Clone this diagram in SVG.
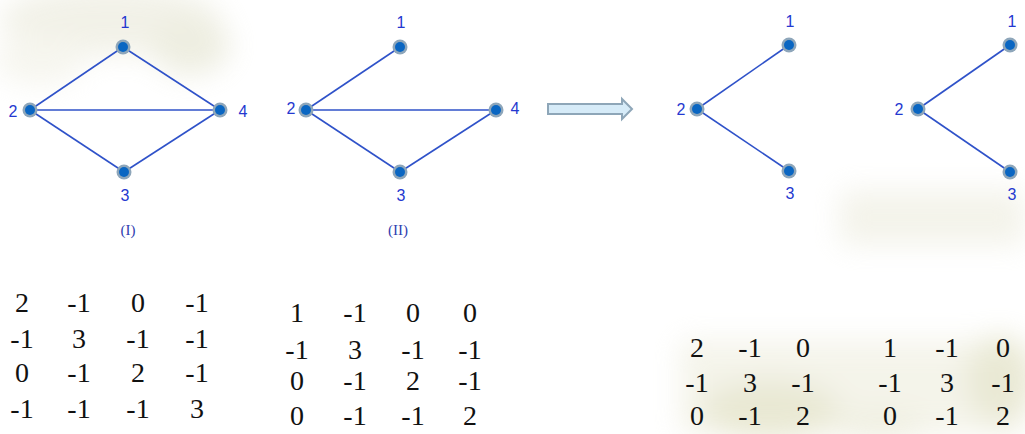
<svg xmlns="http://www.w3.org/2000/svg" width="1025" height="434" viewBox="0 0 1025 434">
<defs>
<filter id="blur" x="-30%" y="-30%" width="160%" height="160%"><feGaussianBlur stdDeviation="14"/></filter>
</defs>
<style>
.edge{stroke:#2f52c9;stroke-width:1.6;fill:none}
.halo{fill:#8ea6ba}
.core{fill:#0a66c2}
.lbl{font-family:"Liberation Sans",Arial,sans-serif;font-size:16px;fill:#2438d0;text-anchor:middle}
.cap{font-family:"Liberation Serif","Times New Roman",serif;font-size:15px;fill:#3040b0;text-anchor:middle}
.m{font-family:"Liberation Serif","DejaVu Serif",serif;font-size:28px;fill:#111;text-anchor:middle}
</style>
<rect width="1025" height="434" fill="#ffffff"/>
<g id="background" filter="url(#blur)" opacity="0.45">
<ellipse cx="110" cy="20" rx="110" ry="35" fill="#e2e1cc"/>
<ellipse cx="190" cy="45" rx="40" ry="30" fill="#d9d9bd"/>
<ellipse cx="40" cy="60" rx="45" ry="25" fill="#ecebdc"/>
<rect x="840" y="190" width="185" height="55" fill="#e6e5d2"/>
<rect x="680" y="340" width="345" height="94" fill="#e8e7d2"/>
<ellipse cx="770" cy="410" rx="70" ry="30" fill="#cfce9f"/>
<ellipse cx="1000" cy="380" rx="35" ry="45" fill="#d0cfa2"/>
<ellipse cx="880" cy="425" rx="50" ry="15" fill="#dcdbbb"/>
</g>
<g id="connectors">
<line class="edge" x1="30" y1="110" x2="123" y2="47"/>
<line class="edge" x1="123" y1="47" x2="220" y2="110"/>
<line class="edge" x1="30" y1="110" x2="220" y2="110"/>
<line class="edge" x1="30" y1="110" x2="124" y2="172"/>
<line class="edge" x1="124" y1="172" x2="220" y2="110"/>
<line class="edge" x1="306" y1="110" x2="400" y2="47"/>
<line class="edge" x1="306" y1="110" x2="496" y2="110"/>
<line class="edge" x1="306" y1="110" x2="400" y2="172"/>
<line class="edge" x1="400" y1="172" x2="496" y2="110"/>
<line class="edge" x1="697" y1="109" x2="789" y2="45"/>
<line class="edge" x1="697" y1="109" x2="789" y2="171"/>
<line class="edge" x1="918" y1="109" x2="1010" y2="45"/>
<line class="edge" x1="918" y1="109" x2="1010" y2="172"/>
</g>
<g id="arrow">
<path d="M548,104 L622,104 L622,99 L632,109 L622,119 L622,114 L548,114 Z" fill="#d6ebf8" stroke="#8ea6b8" stroke-width="2"/>
</g>
<g id="g1-n1"><circle class="halo" cx="123" cy="47" r="7.5"/><circle class="core" cx="123" cy="47" r="5"/><text class="lbl" x="125" y="28">1</text></g>
<g id="g1-n2"><circle class="halo" cx="30" cy="110" r="7.5"/><circle class="core" cx="30" cy="110" r="5"/><text class="lbl" x="13" y="117">2</text></g>
<g id="g1-n3"><circle class="halo" cx="124" cy="172" r="7.5"/><circle class="core" cx="124" cy="172" r="5"/><text class="lbl" x="125" y="201">3</text></g>
<g id="g1-n4"><circle class="halo" cx="220" cy="110" r="7.5"/><circle class="core" cx="220" cy="110" r="5"/><text class="lbl" x="243" y="117">4</text></g>
<text class="cap" x="128" y="235">(I)</text>
<g id="g2-n1"><circle class="halo" cx="400" cy="47" r="7.5"/><circle class="core" cx="400" cy="47" r="5"/><text class="lbl" x="401" y="28">1</text></g>
<g id="g2-n2"><circle class="halo" cx="306" cy="110" r="7.5"/><circle class="core" cx="306" cy="110" r="5"/><text class="lbl" x="291" y="114">2</text></g>
<g id="g2-n3"><circle class="halo" cx="400" cy="172" r="7.5"/><circle class="core" cx="400" cy="172" r="5"/><text class="lbl" x="401" y="201">3</text></g>
<g id="g2-n4"><circle class="halo" cx="496" cy="110" r="7.5"/><circle class="core" cx="496" cy="110" r="5"/><text class="lbl" x="515" y="114">4</text></g>
<text class="cap" x="398" y="235">(II)</text>
<g id="g3-n1"><circle class="halo" cx="789" cy="45" r="7.5"/><circle class="core" cx="789" cy="45" r="5"/><text class="lbl" x="790" y="27">1</text></g>
<g id="g3-n2"><circle class="halo" cx="697" cy="109" r="7.5"/><circle class="core" cx="697" cy="109" r="5"/><text class="lbl" x="681" y="115">2</text></g>
<g id="g3-n3"><circle class="halo" cx="789" cy="171" r="7.5"/><circle class="core" cx="789" cy="171" r="5"/><text class="lbl" x="790" y="199">3</text></g>
<g id="g4-n1"><circle class="halo" cx="1010" cy="45" r="7.5"/><circle class="core" cx="1010" cy="45" r="5"/><text class="lbl" x="1012" y="27">1</text></g>
<g id="g4-n2"><circle class="halo" cx="918" cy="109" r="7.5"/><circle class="core" cx="918" cy="109" r="5"/><text class="lbl" x="899" y="115">2</text></g>
<g id="g4-n3"><circle class="halo" cx="1010" cy="172" r="7.5"/><circle class="core" cx="1010" cy="172" r="5"/><text class="lbl" x="1012" y="200">3</text></g>
<g id="matrix1">
<text class="m" x="22" y="312">2</text><text class="m" x="79" y="312">-1</text><text class="m" x="138" y="312">0</text><text class="m" x="197" y="312">-1</text>
<text class="m" x="22" y="348">-1</text><text class="m" x="79" y="348">3</text><text class="m" x="138" y="348">-1</text><text class="m" x="197" y="348">-1</text>
<text class="m" x="22" y="382">0</text><text class="m" x="79" y="382">-1</text><text class="m" x="138" y="382">2</text><text class="m" x="197" y="382">-1</text>
<text class="m" x="22" y="418">-1</text><text class="m" x="79" y="418">-1</text><text class="m" x="138" y="418">-1</text><text class="m" x="197" y="418">3</text>
</g>
<g id="matrix2">
<text class="m" x="297" y="322">1</text><text class="m" x="355" y="322">-1</text><text class="m" x="413" y="322">0</text><text class="m" x="470" y="322">0</text>
<text class="m" x="297" y="359">-1</text><text class="m" x="355" y="359">3</text><text class="m" x="413" y="359">-1</text><text class="m" x="470" y="359">-1</text>
<text class="m" x="297" y="390">0</text><text class="m" x="355" y="390">-1</text><text class="m" x="413" y="390">2</text><text class="m" x="470" y="390">-1</text>
<text class="m" x="297" y="425">0</text><text class="m" x="355" y="425">-1</text><text class="m" x="413" y="425">-1</text><text class="m" x="470" y="425">2</text>
</g>
<g id="matrix3">
<text class="m" x="697" y="357">2</text><text class="m" x="750" y="357">-1</text><text class="m" x="803" y="357">0</text>
<text class="m" x="697" y="392">-1</text><text class="m" x="750" y="392">3</text><text class="m" x="803" y="392">-1</text>
<text class="m" x="697" y="425">0</text><text class="m" x="750" y="425">-1</text><text class="m" x="803" y="425">2</text>
</g>
<g id="matrix4">
<text class="m" x="890" y="357">1</text><text class="m" x="947" y="357">-1</text><text class="m" x="1003" y="357">0</text>
<text class="m" x="890" y="392">-1</text><text class="m" x="947" y="392">3</text><text class="m" x="1003" y="392">-1</text>
<text class="m" x="890" y="425">0</text><text class="m" x="947" y="425">-1</text><text class="m" x="1003" y="425">2</text>
</g>
</svg>
